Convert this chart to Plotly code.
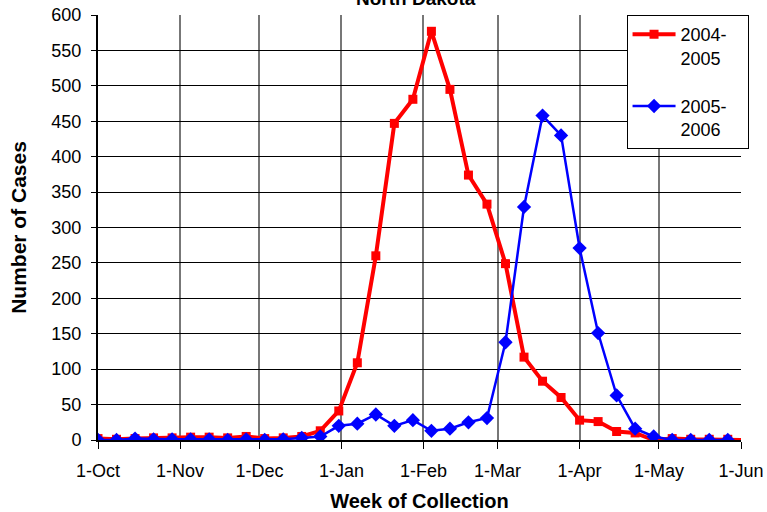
import plotly.graph_objects as go

weeks = ["2005-10-01", "2005-10-08", "2005-10-15", "2005-10-22", "2005-10-29",
         "2005-11-05", "2005-11-12", "2005-11-19", "2005-11-26",
         "2005-12-03", "2005-12-10", "2005-12-17", "2005-12-24", "2005-12-31",
         "2006-01-07", "2006-01-14", "2006-01-21", "2006-01-28",
         "2006-02-04", "2006-02-11", "2006-02-18", "2006-02-25",
         "2006-03-04", "2006-03-11", "2006-03-18", "2006-03-25",
         "2006-04-01", "2006-04-08", "2006-04-15", "2006-04-22", "2006-04-29",
         "2006-05-06", "2006-05-13", "2006-05-20", "2006-05-27", "2006-06-03"]

cases_2004_2005 = [2, 1, 2, 3, 3, 4, 4, 3, 5, 2, 3, 5, 13, 41, 109, 260, 447, 481,
                   577, 495, 374, 333, 249, 117, 83, 60, 28, 26, 12, 10, 0, 2, 1, 1, 1, 0]
cases_2005_2006 = [0, 0, 2, 1, 1, 1, 1, 0, 1, 0, 1, 3, 5, 20, 23, 36, 20, 28,
                   13, 16, 25, 31, 138, 329, 458, 430, 271, 151, 63, 16, 5, 0, 0, 0, 0]

tick_vals = ["2005-10-01", "2005-11-01", "2005-12-01", "2006-01-01", "2006-02-01",
             "2006-03-01", "2006-04-01", "2006-05-01", "2006-06-01"]
tick_text = ["1-Oct", "1-Nov", "1-Dec", "1-Jan", "1-Feb", "1-Mar", "1-Apr", "1-May", "1-Jun"]

FONT = "Liberation Sans, Arial, sans-serif"
NB = "\u00a0" * 3

fig = go.Figure()
fig.add_trace(go.Scatter(
    x=weeks, y=cases_2004_2005, name="2004-" + NB + "<br>2005", mode="lines+markers",
    line=dict(color="#ff0000", width=4), marker=dict(symbol="square", size=9, color="#ff0000"),
    legendgroup="a"))
fig.add_trace(go.Scatter(
    x=weeks[:len(cases_2005_2006)], y=cases_2005_2006, name="2005-" + NB + "<br>2006",
    mode="lines+markers",
    line=dict(color="#0000ff", width=2.5), marker=dict(symbol="diamond", size=11, color="#0000ff"),
    legendgroup="b"))

fig.update_layout(
    width=767, height=512,
    margin=dict(l=98, r=26, t=15, b=72, autoexpand=False),
    paper_bgcolor="white", plot_bgcolor="white",
    font=dict(family=FONT, size=18, color="black"),
    showlegend=True,
    legend=dict(x=0.822, y=1.0, xanchor="left", yanchor="top",
                bordercolor="black", borderwidth=1, bgcolor="white",
                font=dict(family=FONT, size=18), valign="top", itemwidth=43,
                traceorder="grouped", tracegroupgap=22),
    annotations=[dict(text="<b>North Dakota</b>", xref="paper", yref="paper",
                      x=0.495, y=1.0, xanchor="center", yanchor="bottom", yshift=4,
                      showarrow=False, font=dict(family=FONT, size=19, color="black"))],
)

fig.update_xaxes(
    type="date", range=["2005-10-01", "2006-06-01"], automargin=False,
    tickvals=tick_vals, ticktext=tick_text, ticklabeloverflow="allow",
    showgrid=True, gridcolor="#777777", gridwidth=1.5,
    showline=True, linecolor="black", linewidth=2,
    ticks="outside", ticklen=7, tickcolor="black", tickwidth=1,
    tickfont=dict(family=FONT, size=18), ticklabelstandoff=6,
    title=dict(text="<b>Week of Collection</b>", font=dict(family=FONT, size=20), standoff=16),
    zeroline=False,
)
fig.update_yaxes(
    range=[0, 600], dtick=50, tick0=0, automargin=False, ticklabeloverflow="allow",
    showgrid=True, gridcolor="black", gridwidth=1,
    showline=True, linecolor="black", linewidth=2,
    ticks="outside", ticklen=5, tickcolor="black", tickwidth=1,
    tickfont=dict(family=FONT, size=18), ticklabelstandoff=6,
    title=dict(text="<b>Number of Cases</b>", font=dict(family=FONT, size=21), standoff=19),
    zeroline=False,
)

fig.write_html("out.html", config={"displayModeBar": False},
               post_script="document.body.style.margin='0';document.body.style.overflow='hidden';")
